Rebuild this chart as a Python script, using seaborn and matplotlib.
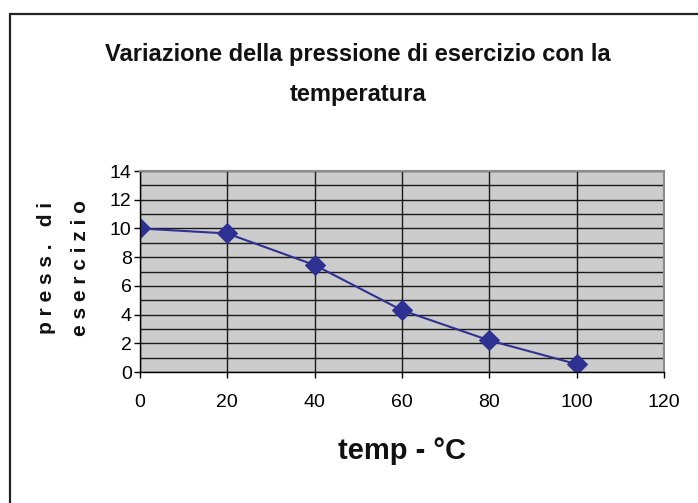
import matplotlib
matplotlib.use("Agg")
import matplotlib.pyplot as plt
import matplotlib.patches as patches
from matplotlib.ticker import MultipleLocator
import seaborn as sns
import pandas as pd

# dati
temperatura = [0, 20, 40, 60, 80, 100]
pressione = [10.0, 9.65, 7.45, 4.3, 2.2, 0.55]

df = pd.DataFrame({"temp": temperatura, "press": pressione})

sns.set_style("white")
plt.rcParams["font.family"] = ["Liberation Sans", "DejaVu Sans"]

fig = plt.figure(figsize=(6.98, 5.03), dpi=100)
ax = fig.add_axes([0.2006, 0.2604, 0.7507, 0.3996])
ax.set_facecolor("#CCCCCC")

sns.lineplot(data=df, x="temp", y="press", ax=ax, color="#2E3192", lw=1.5,
             marker="D", markersize=10.5, markeredgecolor="#2E3192")

ax.set_xlim(0, 120)
ax.set_ylim(0, 14)
ax.xaxis.set_major_locator(MultipleLocator(20))
ax.yaxis.set_major_locator(MultipleLocator(2))
ax.yaxis.set_minor_locator(MultipleLocator(1))
ax.grid(True, which="major", axis="both", color="#1a1a1a", lw=1)
ax.grid(True, which="minor", axis="y", color="#1a1a1a", lw=1)
ax.set_axisbelow(True)

ax.tick_params(axis="both", which="major", direction="out", length=4, width=1,
               labelsize=14, colors="black", bottom=True, left=True)
ax.tick_params(axis="x", pad=12)
ax.tick_params(axis="y", pad=2)
ax.tick_params(which="minor", length=0)
for s in ["left", "bottom"]:
    ax.spines[s].set_color("black")
    ax.spines[s].set_linewidth(1)
for s in ["top", "right"]:
    ax.spines[s].set_color("#8C8C8C")
    ax.spines[s].set_linewidth(1.5)

ax.set_xlabel("")
ax.set_ylabel("")

fig.text(358 / 698, 1 - 55 / 503, "Variazione della pressione di esercizio con la",
         ha="center", va="center", fontsize=17, fontweight="bold", color="#111111")
fig.text(358 / 698, 1 - 95 / 503, "temperatura",
         ha="center", va="center", fontsize=17, fontweight="bold", color="#111111")

fig.text(47 / 698, 1 - 268 / 503, "p r e s s .   d i", rotation=90,
         ha="center", va="center", fontsize=15, fontweight="bold", color="#111111")
fig.text(81 / 698, 1 - 268 / 503, "e s e r c i z i o", rotation=90,
         ha="center", va="center", fontsize=15, fontweight="bold", color="#111111")

fig.text(402 / 698, 1 - 451 / 503, "temp - °C", ha="center", va="center",
         fontsize=21, fontweight="bold", color="#111111")

# cornice del grafico
fig.patches.append(patches.Rectangle((10 / 698, -0.1), 1.1, 1 - 14 / 503 + 0.1,
                                     transform=fig.transFigure, fill=False,
                                     edgecolor="#222222", lw=1.6))

fig.savefig("out.png", dpi=100)
